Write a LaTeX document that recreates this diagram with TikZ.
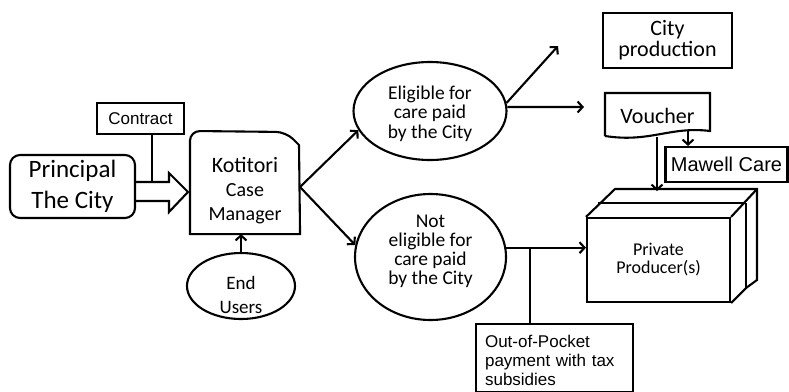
\documentclass[tikz,border=0pt]{standalone}
\usepackage{fontspec}
\setmainfont{Carlito}
\newfontfamily\arialf{Liberation Sans}
\usetikzlibrary{arrows.meta,shapes.geometric}
\begin{document}
\begin{tikzpicture}[x=1pt,y=-1pt,line width=2.1pt,line join=miter,
  >={Straight Barb[length=5pt,width=11pt]},
  box/.style={draw,rectangle,inner sep=0pt,align=center},
  ell/.style={draw,ellipse,inner sep=0pt,align=center},
  txt/.style={inner sep=0pt,align=center},
  ari/.style={font=\arialf\fontsize{#1}{#1}\selectfont}]
\useasboundingbox (0,0) rectangle (789,391);

% Principal
\node[box,rounded corners=10pt,minimum width=125,minimum height=63,
  font=\fontsize{25}{31}\selectfont] (principal) at (72.5,186.5) {Principal\\The City};
% Contract
\node[box,minimum width=87,minimum height=31,ari=17] (contract) at (140.5,118.5) {Contract};
% Kotitori case manager
\node[inner sep=0pt,minimum width=108,minimum height=101] (kot) at (245,182.5) {};
\draw (kot.south west) {[rounded corners=10pt] -- (kot.north west) -- (286,132)} -- (299,145) -- (kot.south east) -- cycle;
\node[txt,font=\fontsize{20}{24}\selectfont] (kottxt) at (245,191)
  {{\fontsize{22}{24}\selectfont Kotitori}\\Case\\Manager};
% hollow arrow
\draw (135,182) -- (169,182) -- (169,173) -- (188,192) -- (169,212) -- (169,201) -- (135,201);
\coordinate (cb) at (152,134);
\draw (cb) -- (152,182);

% End users
\node[ell,minimum width=108,minimum height=66] (users) at (241,286) {};
\node[txt,font=\fontsize{19}{24}\selectfont] (userstxt) at (241,295) {End\\Users};
\draw[->] (users.north) -- (users.north |- kot.south);

% Eligible
\node[ell,minimum width=153,minimum height=98] (elig) at (430,111) {};
\node[txt,font=\fontsize{19.5}{19.5}\selectfont] (eligtxt) at (430,113.5)
  {Eligible for\\care paid\\by the City};
% Not eligible
\node[ell,minimum width=151,minimum height=126] (nel) at (430.5,257) {};
\node[txt,font=\fontsize{19.5}{19}\selectfont] (neltxt) at (430.5,251)
  {Not\\eligible for\\care paid\\by the City};

\draw[->] (300,187) -- (elig.195);
\draw[->] (300,187) -- (nel.171);

% City production
\node[box,minimum width=129,minimum height=55,font=\fontsize{22}{21}\selectfont] (citypr) at (667.5,40.5)
  {City\\production};
\coordinate (e1) at (558,46);
\coordinate (e2) at (584,107);
\draw[->] (elig.6) -- (e1);
\draw[->] (elig.3) -- (e2);

% Voucher
\node[inner sep=0pt,minimum width=105,minimum height=40] (voucher) at (657.5,113) {};
\draw (605,136) -- (605,93) -- (710,93) -- (710,131) .. controls (670,126) and (650,143) .. (605,136);
\node[txt,font=\fontsize{22}{22}\selectfont] (vtxt) at (657.5,116) {Voucher};

% Mawell care
\node[box,minimum width=122,minimum height=35,ari=20] (mawell) at (726.5,164.5) {Mawell Care};
\coordinate (vm) at (688,131);
\draw[->] (vm) -- (vm |- mawell.north);

% Private producers
\node[box,minimum width=143,minimum height=84,font=\fontsize{18}{18}\selectfont] (prod) at (658.5,260)
  {Private\\Producer(s)};
\draw (prod.north west) -- (615,189) -- (757,189) -- (757,280) -- (746,288) -- (prod.south east);
\draw (prod.north east) -- (757,189);
\draw (598,203) -- (744,203);
\draw (746,203) -- (746,288);
\draw[->] (657,137) -- (657,191);

% Not eligible -> producers
\draw[->] (nel.7) -- (nel.7 -| prod.west);

% Out of pocket
\node[draw,inner sep=0pt,minimum width=157,minimum height=68,anchor=north west] (pocket) at (475,323) {};
\node[inner sep=0pt,anchor=north west,align=left,text width=150,font=\arialf\fontsize{17}{19}\selectfont] (pockettxt) at (484,334)
  {Out-of-Pocket\\payment with tax\\subsidies};
\coordinate (pj) at (530,248);
\draw (pj) -- (pj |- pocket.north);
\end{tikzpicture}
\end{document}
